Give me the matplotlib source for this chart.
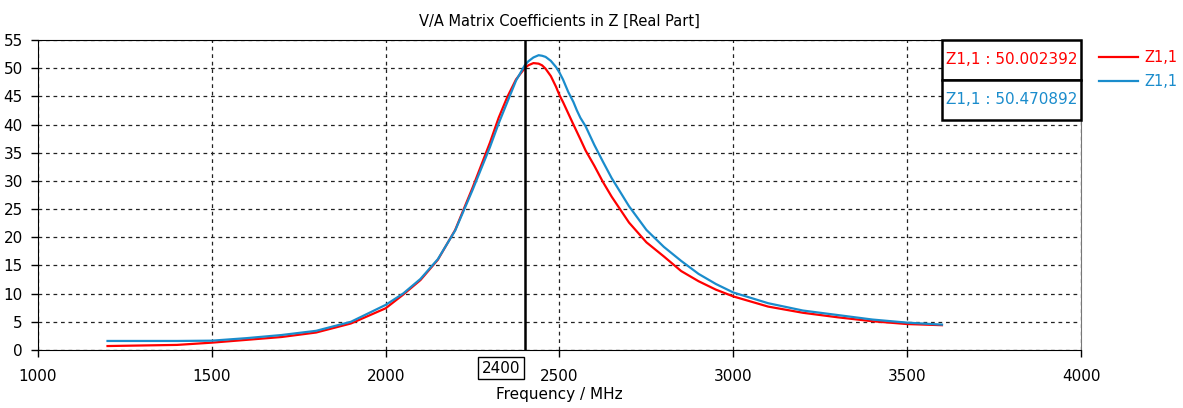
import matplotlib.pyplot as plt
from matplotlib.patches import Rectangle

# frequency points (MHz)
freq = [1200, 1300, 1400, 1500, 1600, 1700, 1800, 1900, 2000, 2050, 2100, 2150,
        2200, 2250, 2300, 2325, 2350, 2375, 2400, 2410, 2425, 2440, 2450, 2460,
        2475, 2490, 2500, 2510, 2525, 2540, 2550, 2560, 2575, 2600, 2625, 2650,
        2700, 2750, 2800, 2850, 2900, 2950, 3000, 3100, 3200, 3300, 3400, 3500,
        3600]

# Re(Z1,1) - first run (red)
z_red = [0.7, 0.8, 0.9, 1.3, 1.8, 2.3, 3.1, 4.7, 7.4, 9.8, 12.4, 16.0,
         21.3, 28.8, 36.8, 41.2, 44.9, 48.0, 50.0, 50.5, 50.9, 50.8, 50.5, 49.9,
         48.6, 46.7, 45.2, 44.0, 42.0, 40.0, 38.7, 37.4, 35.4, 32.7, 29.8, 27.2,
         22.6, 19.1, 16.6, 14.0, 12.2, 10.7, 9.5, 7.7, 6.6, 5.8, 5.1, 4.6,
         4.4]

# Re(Z1,1) - second run (blue)
z_blue = [1.6, 1.6, 1.6, 1.65, 2.1, 2.65, 3.4, 5.0, 8.0, 10.0, 12.6, 16.1,
          21.2, 28.4, 36.0, 40.2, 44.0, 47.8, 50.5, 51.2, 51.9, 52.3, 52.2, 52.0,
          51.3, 50.2, 49.2, 48.0, 45.8, 44.0, 42.5, 41.2, 39.7, 36.4, 33.4, 30.5,
          25.5, 21.3, 18.3, 15.8, 13.5, 11.7, 10.2, 8.3, 7.0, 6.2, 5.4, 4.85,
          4.5]

MARKER_FREQ = 2400
readouts = ["Z1,1 : 50.002392", "Z1,1 : 50.470892"]
labels = ["Z1,1", "Z1,1"]
RED = "#ff0000"
BLUE = "#1a8ccc"

plt.rcParams["font.family"] = "DejaVu Sans"
plt.rcParams["font.size"] = 11

fig = plt.figure(figsize=(11.83, 4.08), dpi=100)
ax = fig.add_axes([0.0321, 0.1422, 0.8817, 0.7598])

l1, = ax.plot(freq, z_red, color=RED, lw=1.6, label=labels[0])
l2, = ax.plot(freq, z_blue, color=BLUE, lw=1.6, label=labels[1])

ax.set_xlim(1000, 4000)
ax.set_ylim(0, 55)
ax.set_xticks(range(1000, 4001, 500))
ax.set_yticks(range(0, 56, 5))
ax.grid(True, color="#222222", linestyle=(0, (3, 3)), linewidth=0.9)
ax.tick_params(direction="out", length=5, width=1, pad=6, labelsize=11)
ax.tick_params(axis="x", pad=9)

for s in ["left", "bottom", "top"]:
    ax.spines[s].set_color("black")
ax.spines["right"].set_color("#777777")

ax.set_title("V/A Matrix Coefficients in Z [Real Part]", fontsize=10.5, pad=10)
ax.set_xlabel("Frequency / MHz", fontsize=11, labelpad=2)

# marker line and its label
ax.axvline(MARKER_FREQ, color="black", lw=1.8)
ax.annotate(str(MARKER_FREQ), xy=(MARKER_FREQ, 0), xycoords=("data", "axes fraction"),
            xytext=(-3, -13), textcoords="offset points", ha="right", va="center",
            fontsize=11,
            bbox=dict(boxstyle="square,pad=0.25", fc="white", ec="black", lw=1))

# readout boxes
bx0, bw, bh = 0.8667, 0.1333, 0.129
for i, (txt, col) in enumerate(zip(readouts, [RED, BLUE])):
    y0 = 1.0 - (i + 1) * bh
    ax.add_patch(Rectangle((bx0, y0), bw, bh, transform=ax.transAxes,
                           fc="white", ec="black", lw=1.8, zorder=5, clip_on=False))
    ax.text(bx0 + bw / 2, y0 + bh / 2, txt, transform=ax.transAxes, color=col,
            ha="center", va="center", fontsize=11, zorder=6)

leg = ax.legend(handles=[l1, l2], loc="upper left", bbox_to_anchor=(1.017, 0.968),
                frameon=False, fontsize=10.5, handlelength=2.7, handletextpad=0.45,
                labelspacing=0.65, borderaxespad=0, borderpad=0)
for t, c in zip(leg.get_texts(), [RED, BLUE]):
    t.set_color(c)

fig.savefig("out.png", dpi=100)
